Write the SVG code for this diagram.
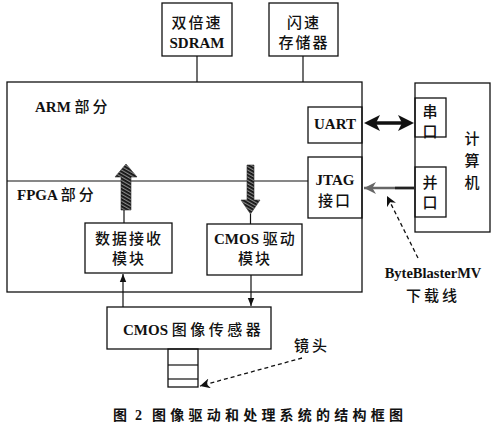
<svg xmlns="http://www.w3.org/2000/svg" width="495" height="430" viewBox="0 0 495 430">
<style>
.box{fill:none;stroke:#111;stroke-width:1.3}
.ln{fill:none;stroke:#111;stroke-width:1.2}
.t{font-family:"Liberation Serif","Times New Roman","DejaVu Serif","Noto Sans CJK SC",serif;font-size:15px;fill:#111;text-anchor:middle;font-weight:bold}
.c{font-family:"Noto Sans CJK SC",sans-serif;font-size:15px;fill:#111;text-anchor:middle;font-weight:500}
.cl{font-family:"Liberation Serif","Times New Roman","DejaVu Serif","Noto Sans CJK SC",serif;font-size:15px;fill:#111;font-weight:bold}
.cj{font-family:"Noto Sans CJK SC",sans-serif;font-weight:500}
.cap{font-family:"Noto Sans CJK SC",sans-serif;font-size:14px;font-weight:bold;fill:#111}
.dash{fill:none;stroke:#111;stroke-width:1.3;stroke-dasharray:4 3}
</style>
<defs>
<marker id="ah" viewBox="0 0 10 10" refX="10" refY="5" markerWidth="8" markerHeight="8" markerUnits="userSpaceOnUse" orient="auto">
<path d="M0,1 L10,5 L0,9 Z" fill="#111"/>
</marker>
<marker id="ahg" viewBox="0 0 10 10" refX="10" refY="5" markerWidth="14" markerHeight="12" markerUnits="userSpaceOnUse" orient="auto">
<path d="M0,0 L10,5 L0,10 L3,5 Z" fill="#666"/>
</marker>
<marker id="ahd" viewBox="0 0 10 10" refX="10" refY="5" markerWidth="10" markerHeight="10" markerUnits="userSpaceOnUse" orient="auto">
<path d="M0,0 L10,5 L0,10 L3,5 Z" fill="#111"/>
</marker>
<pattern id="hatch" patternUnits="userSpaceOnUse" width="3" height="3" patternTransform="rotate(30)">
<rect width="3" height="3" fill="#888"/>
<rect width="3" height="1.8" fill="#111"/>
</pattern>
</defs>

<g id="sdram">
<rect class="box" x="162" y="3" width="70" height="53"/>
<text class="c" x="197" y="28" letter-spacing="2">双倍速</text>
<text class="t" x="197" y="48">SDRAM</text>
</g>
<g id="flash">
<rect class="box" x="269" y="3" width="69" height="53"/>
<text class="c" x="304" y="28" letter-spacing="2">闪速</text>
<text class="c" x="304" y="48" letter-spacing="2">存储器</text>
</g>
<g id="arm">
<rect class="box" x="7" y="82" width="355" height="210"/>
<text class="cl" x="35" y="112">ARM <tspan class="cj" letter-spacing="3">部分</tspan></text>
</g>
<g id="fpga">
<line class="ln" x1="7" y1="181" x2="308" y2="181"/>
<text class="cl" x="17" y="200">FPGA <tspan class="cj" letter-spacing="3">部分</tspan></text>
</g>
<g id="uart">
<rect class="box" x="308" y="107" width="54" height="36"/>
<text class="t" x="335" y="129">UART</text>
</g>
<g id="jtag">
<rect class="box" x="308" y="157" width="54" height="61"/>
<text class="t" x="335" y="185">JTAG</text>
<text class="c" x="335" y="206" letter-spacing="2">接口</text>
</g>
<g id="computer">
<rect class="box" x="415" y="83" width="75" height="149"/>
<text class="c" x="472" y="144">计</text>
<text class="c" x="472" y="166">算</text>
<text class="c" x="472" y="188">机</text>
</g>
<g id="serial">
<rect class="box" x="415" y="98" width="31" height="39"/>
<text class="c" x="430" y="117">串</text>
<text class="c" x="430" y="137">口</text>
</g>
<g id="parallel">
<rect class="box" x="415" y="167" width="31" height="50"/>
<text class="c" x="430" y="188">并</text>
<text class="c" x="430" y="208">口</text>
</g>
<g id="datarecv">
<rect class="box" x="85" y="223" width="87" height="50"/>
<text class="c" x="129" y="244" letter-spacing="2">数据接收</text>
<text class="c" x="129" y="264" letter-spacing="2">模块</text>
</g>
<g id="cmosdrv">
<rect class="box" x="207" y="224" width="95" height="51"/>
<text class="cl" x="214" y="244">CMOS <tspan class="cj" letter-spacing="2">驱动</tspan></text>
<text class="c" x="255" y="264" letter-spacing="2">模块</text>
</g>
<g id="sensor">
<rect class="box" x="107" y="307" width="164" height="42"/>
<text class="cl" x="123" y="335">CMOS <tspan class="cj" letter-spacing="3.5">图像传感器</tspan></text>
</g>
<g id="lens">
<rect class="box" x="168" y="349" width="30" height="38"/>
<line class="ln" x1="168" y1="365" x2="198" y2="365"/>
<line class="ln" x1="168" y1="379" x2="198" y2="379"/>
</g>
<g id="bytelabel">
<text class="t" x="433" y="278" style="font-size:14.5px">ByteBlasterMV</text>
<text class="c" x="433" y="301" letter-spacing="3">下载线</text>
</g>
<g id="lenslabel">
<text class="c" x="312" y="351" letter-spacing="3">镜头</text>
</g>
<g id="caption">
<text class="cap" x="113" y="420">图</text>
<text class="cap" x="135" y="420" style="font-family:'Liberation Serif',serif">2</text>
<text class="cap" x="152" y="420" textLength="251" lengthAdjust="spacing">图像驱动和处理系统的结构框图</text>
</g>

<g id="connectors">
<line class="ln" x1="197" y1="56" x2="197" y2="82"/>
<line class="ln" x1="303" y1="56" x2="303" y2="82"/>
<line x1="374" y1="123" x2="404" y2="123" stroke="#111" stroke-width="3.5"/>
<path d="M364,123 L380,115 L376,123 L380,131 Z" fill="#111"/>
<path d="M414,123 L398,115 L402,123 L398,131 Z" fill="#111"/>
<line x1="414" y1="188" x2="364" y2="188" stroke="#666" stroke-width="2.5" marker-end="url(#ahg)"/>
<line x1="395" y1="188" x2="414" y2="188" stroke="#222" stroke-width="2.5"/>
<path d="M126,164 L137,177 L131,177 L131,210 L121,210 L121,177 L115,177 Z" fill="url(#hatch)" stroke="#333" stroke-width="0.6"/>
<line class="ln" x1="124" y1="210" x2="124" y2="223"/>
<path d="M247,165 L254,165 L254,200 L260,200 L250.5,214 L241,200 L247,200 Z" fill="url(#hatch)" stroke="#333" stroke-width="0.6"/>
<line class="ln" x1="250.5" y1="214" x2="250.5" y2="224"/>
<line class="ln" x1="123" y1="307" x2="123" y2="274" marker-end="url(#ah)"/>
<line class="ln" x1="251" y1="275" x2="251" y2="306" marker-end="url(#ah)"/>
<line class="dash" x1="418" y1="258" x2="387" y2="196" marker-end="url(#ahd)"/>
<line class="dash" x1="302" y1="358" x2="200" y2="386" marker-end="url(#ahd)"/>
</g>
</svg>
